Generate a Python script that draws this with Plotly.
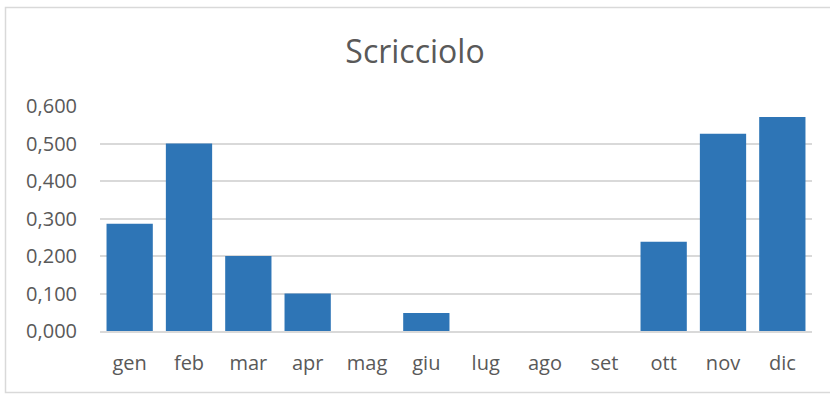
import plotly.graph_objects as go

# Monthly values for the wren (Scricciolo)
months = ["gen", "feb", "mar", "apr", "mag", "giu", "lug", "ago", "set", "ott", "nov", "dic"]
values = [0.286, 0.500, 0.200, 0.100, 0.0, 0.048, 0.0, 0.0, 0.0, 0.238, 0.526, 0.571]
y_ticks = [0.0, 0.1, 0.2, 0.3, 0.4, 0.5, 0.6]

W, H = 830, 394
L, R, T, B = 100, 18, 106, 63
plot_w = W - L - R
plot_h = H - T - B


def px_to_paper_x(px):
    return (px - L) / plot_w


def px_to_paper_y(py):
    return (H - B - py) / plot_h


fig = go.Figure(
    go.Bar(
        x=months,
        y=values,
        marker=dict(color="#2E75B6", line=dict(width=0)),
        hoverinfo="x+y",
    )
)

fig.update_layout(
    width=W,
    height=H,
    margin=dict(l=L, r=R, t=T, b=B),
    paper_bgcolor="white",
    plot_bgcolor="white",
    separators=",.",
    bargap=0.22,
    showlegend=False,
    font=dict(family="Open Sans", color="#595959"),
    title=dict(
        text="Scricciolo",
        x=0.5,
        xanchor="center",
        y=1 - 52 / H,
        yanchor="middle",
        font=dict(size=32, color="#595959", family="Open Sans"),
    ),
    xaxis=dict(
        showgrid=False,
        showline=True,
        linecolor="#D9D9D9",
        linewidth=1.5,
        ticks="",
        tickfont=dict(size=20, color="#595959"),
        ticklabelstandoff=13,
    ),
    yaxis=dict(
        range=[0, 0.6],
        tickvals=y_ticks,
        tickformat=".3f",
        showgrid=True,
        gridcolor="#D9D9D9",
        gridwidth=1.5,
        zeroline=False,
        showline=False,
        ticks="",
        tickfont=dict(size=20, color="#595959"),
        ticklabelstandoff=22,
    ),
    shapes=[
        dict(
            type="rect",
            xref="paper",
            yref="paper",
            x0=px_to_paper_x(5.5),
            x1=px_to_paper_x(840),
            y0=px_to_paper_y(392.5),
            y1=px_to_paper_y(7.5),
            line=dict(color="#D9D9D9", width=1.5),
            fillcolor="rgba(0,0,0,0)",
            layer="below",
        )
    ],
)

fig.write_html("out.html")
